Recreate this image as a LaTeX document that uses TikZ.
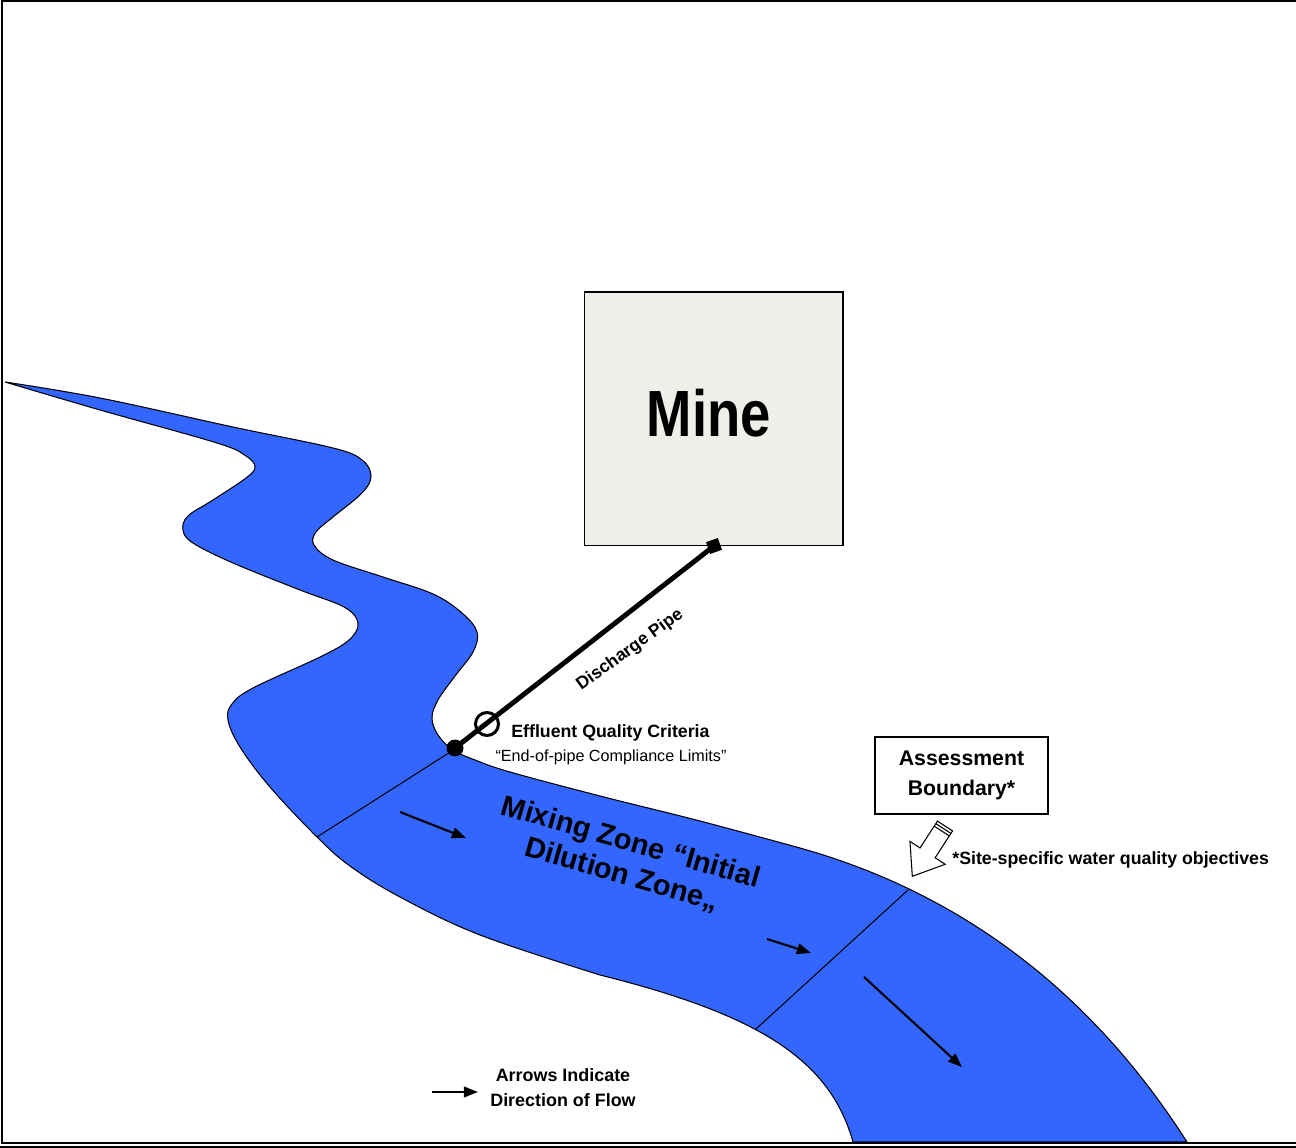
\documentclass[tikz,border=0pt]{standalone}
\usepackage{fontspec}
\setmainfont{Liberation Sans}
\usetikzlibrary{arrows.meta}
\definecolor{riverblue}{RGB}{51,102,255}
\definecolor{minegray}{RGB}{239,239,234}
\begin{document}
\begin{tikzpicture}[x=0.02cm,y=-0.02cm,
  river/.style={fill=riverblue, draw=black, line width=0.6pt},
  flow/.style={line width=1.2pt, -{Triangle[length=8pt,width=6pt]}},
  zoneline/.style={draw=black, line width=0.6pt},
  lbl/.style={inner sep=0pt, font=\bfseries},
  boxed/.style={draw=black, line width=0.6pt, inner sep=0pt}
]
\useasboundingbox (0,0) rectangle (1296,1148);
% frame
\draw[line width=1.7pt] (2,1143) -- (2,1) -- (1296,1);
\draw[line width=1.7pt] (1,1143) -- (1296,1143);
\draw[line width=1.1pt] (0,1146.8) -- (1296,1146.8);

% river
\path[river] (5,382) -- plot[smooth,tension=0.6] coordinates {
 (5,382) (100,398) (233,427) (333,448) (362,460) (371,476) (362,493) (333,517)
 (316,532) (314,545) (333,560) (383,577) (433,594) (462,613) (477,632) (473,652)
 (455,676) (438,700) (432,718) (438,735) (453,750) (475,760) (510,772) (600,796)
 (700,821) (800,848)}
 .. controls (950,890) and (1085,982) .. (1187,1142)
 -- (853,1142) .. controls (830,1060) and (760,1015) .. (600,975)
 -- plot[smooth,tension=0.6] coordinates {
 (600,975) (480,935)
 (400,897) (350,866) (317,837) (270,787) (240,747) (228,720) (232,704) (253,688)
 (320,657) (349,640) (358,623) (344,607) (300,590) (233,563) (193,543) (183,530)
 (188,516) (213,500) (246,478) (255,467) (246,456) (217,443) (100,410) (5,382)}
 -- cycle;

% zone boundaries
\coordinate (z1a) at (455,749);
\coordinate (z1b) at (317,837);
\coordinate (z2a) at (908,890);
\coordinate (z2b) at (756,1029);
\draw[zoneline] (z1a) -- (z1b);
\draw[zoneline] (z2a) -- (z2b);

% flow arrows
\coordinate (f1a) at (400,812); \coordinate (f1b) at (466,838);
\coordinate (f2a) at (767,939); \coordinate (f2b) at (811,953);
\coordinate (f3a) at (864,977); \coordinate (f3b) at (962,1067);
\draw[flow] (f1a) -- (f1b);
\draw[flow] (f2a) -- (f2b);
\draw[flow] (f3a) -- (f3b);

% mine
\node[boxed, fill=minegray, minimum width=5.18cm, minimum height=5.08cm] (mine) at (713.5,419) {};
\node[lbl, font=\fontsize{31}{36}\selectfont\bfseries] (minelabel) at (709,413) {\scalebox{1}[1.2]{Mine}};

% pipe
\node[circle, fill=black, inner sep=0pt, minimum size=0.34cm] (outfall) at (455,748) {};
\node[rectangle, fill=black, inner sep=0pt, minimum size=0.25cm, rotate=20] (pipeend) at (714,546) {};
\draw[line width=2.8pt] (outfall.center) -- (pipeend.center);
\node[circle, draw=black, line width=1.7pt, inner sep=0pt, minimum size=0.46cm] (sample) at (487,724) {};
\node[lbl, font=\fontsize{10}{12}\selectfont\bfseries, rotate=36] (pipelabel) at (630,650) {Discharge Pipe};

% effluent labels
\node[lbl, anchor=west, font=\fontsize{10.1}{12}\selectfont\bfseries] (eqc) at (511,733) {Effluent Quality Criteria};
\node[inner sep=0pt, font=\fontsize{9.2}{11}\selectfont] (eop) at (611,757) {“End-of-pipe Compliance Limits”};

% mixing zone
\node[lbl, align=center, rotate=-16, font=\fontsize{16.5}{19}\selectfont\bfseries] (mz) at (626,859) {Mixing Zone “Initial\\Dilution Zone„};

% assessment boundary
\node[boxed, minimum width=3.46cm, minimum height=1.54cm, align=center,
      font=\fontsize{12.1}{17}\selectfont\bfseries] (ab) at (961.5,775.5) {Assessment\\Boundary*};
\begin{scope}[shift={(945,826)}, rotate=-123]
  \draw[fill=white, line width=0.6pt] (0,-9) -- (32,-9) -- (32,-21) -- (60,0) -- (32,21) -- (32,9) -- (0,9) -- cycle;
  \draw[line width=0.6pt] (3,-9) -- (3,9);
  \draw[line width=0.6pt] (6,-9) -- (6,9);
\end{scope}
\node[lbl, anchor=west, font=\fontsize{10.1}{12}\selectfont\bfseries] (sswqo) at (952,860) {*Site-specific water quality objectives};

% legend
\coordinate (lga) at (432,1092); \coordinate (lgb) at (478,1092);
\draw[flow] (lga) -- (lgb);
\node[lbl, align=center, font=\fontsize{10.2}{14.2}\selectfont\bfseries] (legend) at (563,1088) {Arrows Indicate\\Direction of Flow};
\end{tikzpicture}
\end{document}
